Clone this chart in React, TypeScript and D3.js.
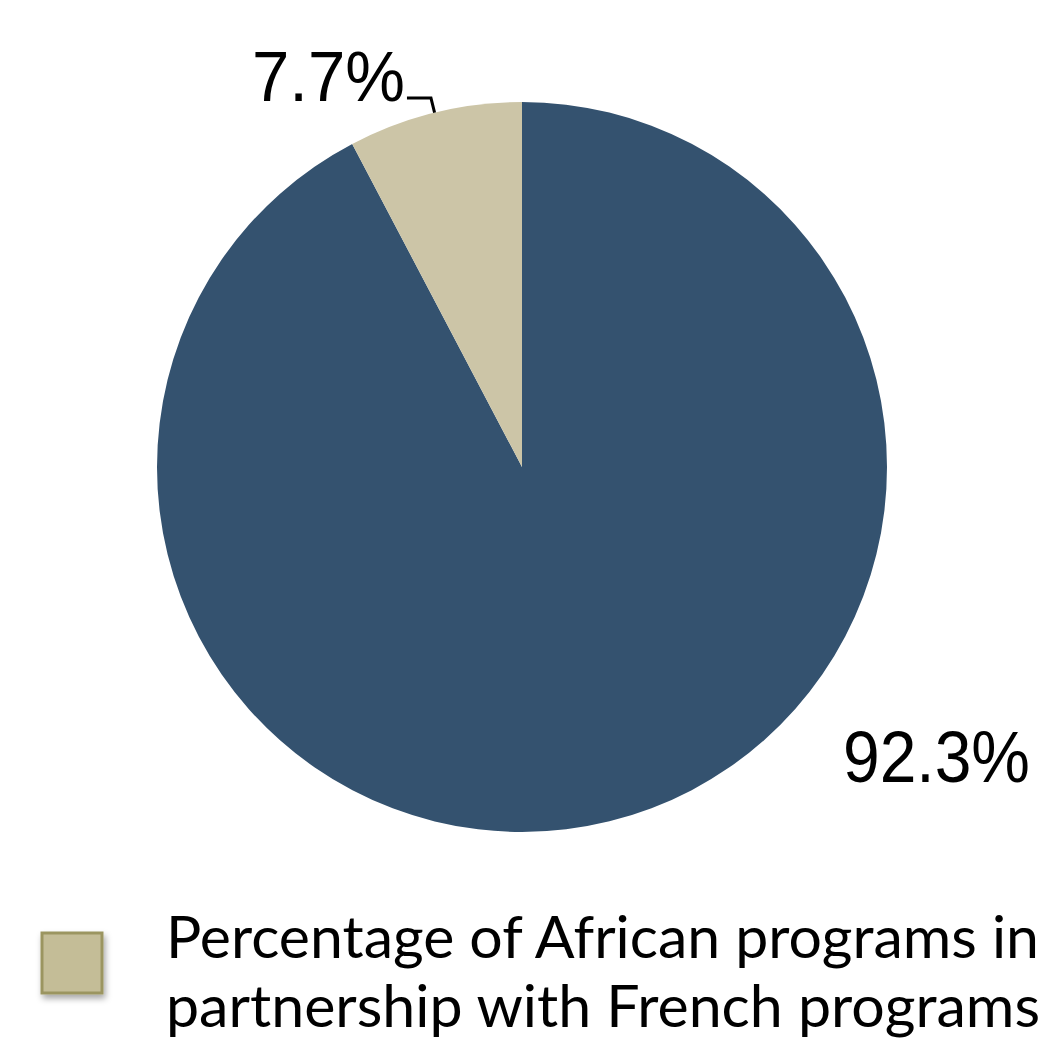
import React from 'react';
import * as d3 from 'd3';

const categories = ['Other programs', 'Percentage of African programs in partnership with French programs'];
const values = [92.3, 7.7];
const labels = ['92.3%', '7.7%'];
const colors = ['#34526f', '#ccc5a7'];
const legendLines = ['Percentage of African programs in', 'partnership with French programs'];

const W = 1049;
const H = 1043;
const cx = 522;
const cy = 467;
const R = 365;

const App = () => {
  const pie = d3.pie<number>().sort(null).startAngle(0).endAngle(2 * Math.PI);
  const arcs = pie(values);
  const arc = d3.arc<d3.PieArcDatum<number>>().innerRadius(0).outerRadius(R);

  // leader line for the small slice
  const small = arcs[1];
  const mid = (small.startAngle + small.endAngle) / 2;
  const p0 = [Math.sin(mid) * R, -Math.cos(mid) * R];
  const p1 = [Math.sin(mid) * (R + 15), -Math.cos(mid) * (R + 15)];
  const p2 = [p1[0] - 24, p1[1]];

  return (
    <svg width={W} height={H} style={{ position: 'absolute', left: 0, top: 0, background: '#fff' }}>
      <defs>
        <filter id="shadow" x="-30%" y="-30%" width="160%" height="160%">
          <feDropShadow dx="2" dy="4" stdDeviation="3" floodColor="#000" floodOpacity="0.35" />
        </filter>
      </defs>
      <g transform={`translate(${cx},${cy})`}>
        {arcs.map((a, i) => (
          <path key={categories[i]} d={arc(a) || ''} fill={colors[i]} />
        ))}
        <polyline
          points={[p0, p1, p2].map((p) => p.join(',')).join(' ')}
          fill="none"
          stroke="#000"
          strokeWidth={3}
        />
        <text
          x={p2[0] - 2}
          y={p2[1] + 3}
          textAnchor="end"
          fontFamily="Liberation Sans, Arial, sans-serif"
          fontSize={70}
          textLength={153}
          lengthAdjust="spacingAndGlyphs"
          fill="#000"
        >
          {labels[1]}
        </text>
        <text
          x={321}
          y={315}
          fontFamily="Liberation Sans, Arial, sans-serif"
          fontSize={72}
          textLength={187}
          lengthAdjust="spacingAndGlyphs"
          fill="#000"
        >
          {labels[0]}
        </text>
      </g>
      <g>
        <rect x={42} y={933} width={60} height={60} fill="#c4bd97" stroke="#9b9560" strokeWidth={3} filter="url(#shadow)" />
        {legendLines.map((line, i) => (
          <text
            key={line}
            x={166}
            y={958 + i * 69}
            fontFamily="Lato, 'Open Sans', sans-serif"
            fontSize={58}
            textLength={i === 0 ? 873 : 874}
            lengthAdjust="spacingAndGlyphs"
            fill="#000"
          >
            {line}
          </text>
        ))}
      </g>
    </svg>
  );
};

export default App;
